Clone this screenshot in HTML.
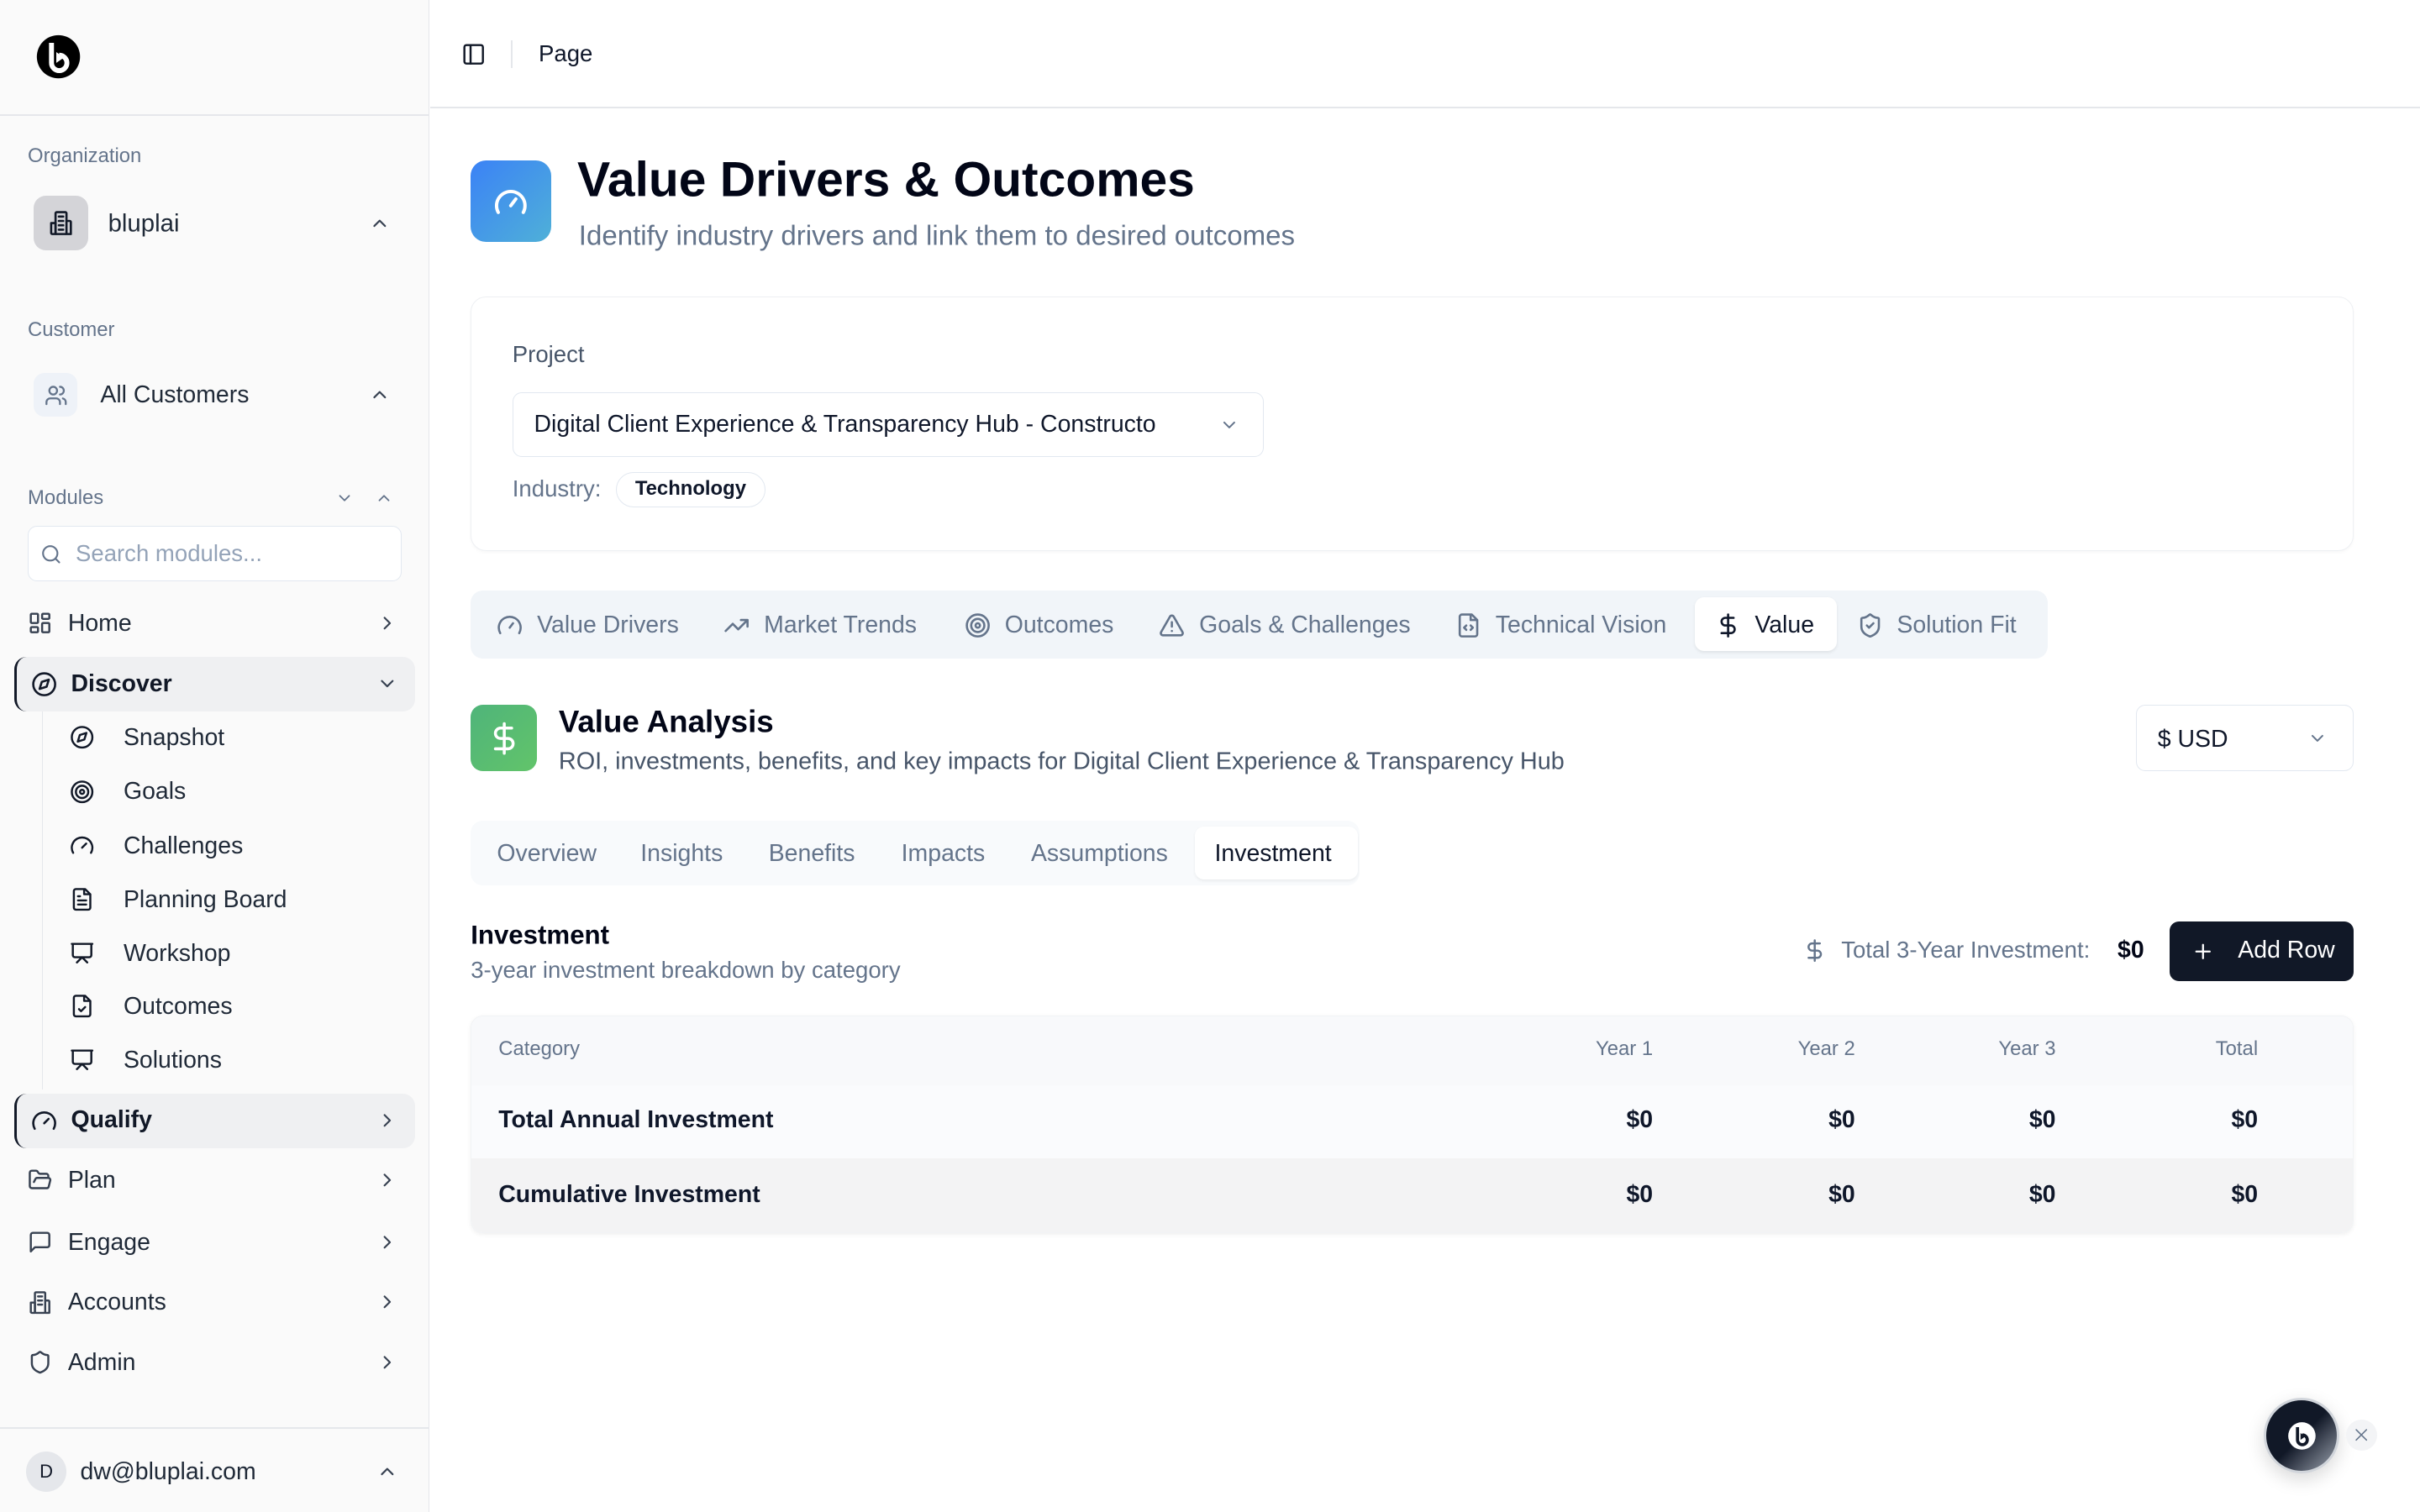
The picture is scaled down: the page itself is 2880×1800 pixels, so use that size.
<!DOCTYPE html>
<html><head><meta charset="utf-8"><style>
*{box-sizing:border-box;margin:0;padding:0}
html,body{width:2880px;height:1800px;overflow:hidden;background:#fff}
#r{position:absolute;left:0;top:0;width:1568px;height:980px;zoom:1.836735;font-family:"Liberation Sans",sans-serif;color:#0f172a}
.a{position:absolute}
.t{position:absolute;line-height:1;transform:translateY(-50%);white-space:nowrap}
.g{color:#64748b}
svg.i{position:absolute;fill:none;stroke:currentColor;stroke-width:2;stroke-linecap:round;stroke-linejoin:round}
.side{left:0;top:0;width:278px;height:980px;background:#fafafa;border-right:1px solid #e5e7eb}
.nav{font-size:15.5px;color:#1f2937}
</style></head><body><div id="r">
<div class="a side"></div>
<svg class="a" style="left:23px;top:22px" width="30" height="30" viewBox="0 0 30 30"><circle cx="15" cy="15" r="14" fill="#000"/><path d="M10.5 6v13a5 5 0 1 0 5-5" stroke="#fff" stroke-width="3.2" fill="none"/><path d="M13.6 12v7l5-3.5z" fill="#fff"/></svg>
<div class="a" style="left:0;top:74px;width:278px;height:1px;background:#e5e7eb"></div>
<div class="t g" style="left:18px;top:101px;font-size:13px">Organization</div>
<div class="a" style="left:22px;top:127px;width:35px;height:35px;border-radius:8px;background:#d4d4d8"></div>
<svg class="i" style="left:31px;top:136px;color:#111827" width="17" height="17" viewBox="0 0 24 24"><rect x="7" y="2" width="10" height="20" rx="1"/><path d="M3 12h4v10H4a1 1 0 0 1-1-1zM17 10h3a1 1 0 0 1 1 1v11h-4M10 6h4M10 10h4M10 14h4M10 18h4"/></svg>
<div class="t nav" style="left:70px;top:145px;font-size:16px">bluplai</div>
<svg class="i" style="left:239px;top:138px;color:#374151" width="14" height="14" viewBox="0 0 24 24"><path d="M6 15l6-6 6 6"/></svg>
<div class="t g" style="left:18px;top:214px;font-size:13px">Customer</div>
<div class="a" style="left:22px;top:242px;width:28px;height:28px;border-radius:7px;background:#eef2f8"></div>
<svg class="i" style="left:29px;top:249px;color:#64748b" width="15" height="15" viewBox="0 0 24 24"><circle cx="9" cy="7" r="4"/><path d="M2 21v-2a4 4 0 0 1 4-4h6a4 4 0 0 1 4 4v2M16 3a4 4 0 0 1 0 8M22 21v-2a4 4 0 0 0-3-3.9"/></svg>
<div class="t nav" style="left:65px;top:256px;font-size:15.5px">All Customers</div>
<svg class="i" style="left:239px;top:249px;color:#374151" width="14" height="14" viewBox="0 0 24 24"><path d="M6 15l6-6 6 6"/></svg>
<div class="t g" style="left:18px;top:323px;font-size:13px">Modules</div>
<svg class="i" style="left:217px;top:317px;color:#64748b" width="12" height="12" viewBox="0 0 24 24"><path d="M6 9l6 6 6-6"/></svg>
<svg class="i" style="left:243px;top:317px;color:#64748b" width="12" height="12" viewBox="0 0 24 24"><path d="M6 15l6-6 6 6"/></svg>
<div class="a" style="left:18px;top:341px;width:242px;height:36px;border:1px solid #e2e8f0;border-radius:6px;background:#fff"></div>
<svg class="i" style="left:26px;top:352px;color:#64748b" width="14" height="14" viewBox="0 0 24 24"><circle cx="11" cy="11" r="8"/><path d="M21 21l-4.3-4.3"/></svg>
<div class="t" style="left:49px;top:359px;font-size:15px;color:#94a3b8">Search modules...</div>
<svg class="i" style="left:18px;top:396px;color:#374151" width="16" height="16" viewBox="0 0 24 24"><rect x="3" y="3" width="7" height="9" rx="1"/><rect x="14" y="3" width="7" height="5" rx="1"/><rect x="14" y="12" width="7" height="9" rx="1"/><rect x="3" y="16" width="7" height="5" rx="1"/></svg>
<div class="t nav" style="left:44px;top:404px">Home</div>
<svg class="i" style="left:244px;top:397px;color:#374151" width="14" height="14" viewBox="0 0 24 24"><path d="M9 6l6 6-6 6"/></svg>
<div class="a" style="left:9px;top:426px;width:260px;height:35px;background:#eff0f2;border-radius:8px;border-left:2px solid #111827"></div>
<svg class="i" style="left:20px;top:435px;color:#111827" width="17" height="17" viewBox="0 0 24 24"><circle cx="12" cy="12" r="10"/><path d="M16.2 7.8l-2 6.4-6.4 2 2-6.4z"/></svg>
<div class="t nav" style="left:46px;top:443px;font-weight:bold;color:#111827">Discover</div>
<svg class="i" style="left:244px;top:436px;color:#374151" width="14" height="14" viewBox="0 0 24 24"><path d="M6 9l6 6 6-6"/></svg>
<div class="a" style="left:27px;top:461px;width:1px;height:245px;background:#e5e7eb"></div>
<svg class="i" style="left:45px;top:470px;color:#111827" width="16" height="16" viewBox="0 0 24 24"><circle cx="12" cy="12" r="10"/><path d="M16.2 7.8l-2 6.4-6.4 2 2-6.4z"/></svg>
<div class="t nav" style="left:80px;top:478px">Snapshot</div>
<svg class="i" style="left:45px;top:505px;color:#111827" width="16" height="16" viewBox="0 0 24 24"><circle cx="12" cy="12" r="10"/><circle cx="12" cy="12" r="6"/><circle cx="12" cy="12" r="2"/></svg>
<div class="t nav" style="left:80px;top:513px">Goals</div>
<svg class="i" style="left:45px;top:540px;color:#111827" width="16" height="16" viewBox="0 0 24 24"><path d="M12 14l4-4M3.3 19a10 10 0 1 1 17.4 0"/></svg>
<div class="t nav" style="left:80px;top:548px">Challenges</div>
<svg class="i" style="left:45px;top:575px;color:#111827" width="16" height="16" viewBox="0 0 24 24"><path d="M15 2H6a2 2 0 0 0-2 2v16a2 2 0 0 0 2 2h12a2 2 0 0 0 2-2V7z M14 2v5h5M8 13h8M8 17h8M8 9h2"/></svg>
<div class="t nav" style="left:80px;top:583px">Planning Board</div>
<svg class="i" style="left:45px;top:610px;color:#111827" width="16" height="16" viewBox="0 0 24 24"><path d="M2 3h20M21 3v11a2 2 0 0 1-2 2H5a2 2 0 0 1-2-2V3M7 21l5-5 5 5"/></svg>
<div class="t nav" style="left:80px;top:618px">Workshop</div>
<svg class="i" style="left:45px;top:644px;color:#111827" width="16" height="16" viewBox="0 0 24 24"><path d="M15 2H6a2 2 0 0 0-2 2v16a2 2 0 0 0 2 2h12a2 2 0 0 0 2-2V7z M14 2v5h5M9 15l2 2 4-4"/></svg>
<div class="t nav" style="left:80px;top:652px">Outcomes</div>
<svg class="i" style="left:45px;top:679px;color:#111827" width="16" height="16" viewBox="0 0 24 24"><path d="M2 3h20M21 3v11a2 2 0 0 1-2 2H5a2 2 0 0 1-2-2V3M7 21l5-5 5 5"/></svg>
<div class="t nav" style="left:80px;top:687px">Solutions</div>
<div class="a" style="left:9px;top:709px;width:260px;height:35px;background:#eff0f2;border-radius:8px;border-left:2px solid #111827"></div>
<svg class="i" style="left:20px;top:718px;color:#111827" width="17" height="17" viewBox="0 0 24 24"><path d="M12 14l4-4M3.3 19a10 10 0 1 1 17.4 0"/></svg>
<div class="t nav" style="left:46px;top:726px;font-weight:bold;color:#111827">Qualify</div>
<svg class="i" style="left:244px;top:719px;color:#374151" width="14" height="14" viewBox="0 0 24 24"><path d="M9 6l6 6-6 6"/></svg>
<svg class="i" style="left:18px;top:757px;color:#374151" width="16" height="16" viewBox="0 0 24 24"><path d="M6 14l1.5-2.9A2 2 0 0 1 9.2 10H20a2 2 0 0 1 1.9 2.5l-1.5 6a2 2 0 0 1-2 1.5H4a2 2 0 0 1-2-2V5a2 2 0 0 1 2-2h3.9a2 2 0 0 1 1.7.9l.8 1.2a2 2 0 0 0 1.7.9H18a2 2 0 0 1 2 2v2"/></svg>
<div class="t nav" style="left:44px;top:765px">Plan</div>
<svg class="i" style="left:244px;top:758px;color:#374151" width="14" height="14" viewBox="0 0 24 24"><path d="M9 6l6 6-6 6"/></svg>
<svg class="i" style="left:18px;top:797px;color:#374151" width="16" height="16" viewBox="0 0 24 24"><path d="M21 15a2 2 0 0 1-2 2H7l-4 4V5a2 2 0 0 1 2-2h14a2 2 0 0 1 2 2z"/></svg>
<div class="t nav" style="left:44px;top:805px">Engage</div>
<svg class="i" style="left:244px;top:798px;color:#374151" width="14" height="14" viewBox="0 0 24 24"><path d="M9 6l6 6-6 6"/></svg>
<svg class="i" style="left:18px;top:836px;color:#374151" width="16" height="16" viewBox="0 0 24 24"><rect x="7" y="2" width="10" height="20" rx="1"/><path d="M3 12h4v10H4a1 1 0 0 1-1-1zM17 10h3a1 1 0 0 1 1 1v11h-4M10 6h4M10 10h4M10 14h4"/></svg>
<div class="t nav" style="left:44px;top:844px">Accounts</div>
<svg class="i" style="left:244px;top:837px;color:#374151" width="14" height="14" viewBox="0 0 24 24"><path d="M9 6l6 6-6 6"/></svg>
<svg class="i" style="left:18px;top:875px;color:#374151" width="16" height="16" viewBox="0 0 24 24"><path d="M20 13c0 5-3.5 7.5-7.7 9a1 1 0 0 1-.7 0C7.5 20.5 4 18 4 13V6a1 1 0 0 1 1-1c2 0 4.5-1.2 6.2-2.7a1.2 1.2 0 0 1 1.6 0C14.5 3.8 17 5 19 5a1 1 0 0 1 1 1z"/></svg>
<div class="t nav" style="left:44px;top:883px">Admin</div>
<svg class="i" style="left:244px;top:876px;color:#374151" width="14" height="14" viewBox="0 0 24 24"><path d="M9 6l6 6-6 6"/></svg>
<div class="a" style="left:0;top:925px;width:278px;height:1px;background:#e5e7eb"></div>
<div class="a" style="left:17px;top:941px;width:26px;height:26px;border-radius:50%;background:#e5e7eb;font-size:12px;line-height:26px;text-align:center;color:#111827">D</div>
<div class="t nav" style="left:52px;top:954px">dw@bluplai.com</div>
<svg class="i" style="left:244px;top:947px;color:#374151" width="14" height="14" viewBox="0 0 24 24"><path d="M6 15l6-6 6 6"/></svg>

<div class="a" style="left:279px;top:69px;width:1289px;height:1px;background:#e5e7eb"></div>
<svg class="i" style="left:299px;top:27px;color:#111827" width="16" height="16" viewBox="0 0 24 24"><rect x="3" y="3" width="18" height="18" rx="2"/><path d="M9 3v18"/></svg>
<div class="a" style="left:331px;top:26px;width:1px;height:18px;background:#e5e7eb"></div>
<div class="t" style="left:349px;top:35px;font-size:15px">Page</div>

<div class="a" style="left:305px;top:104px;width:52px;height:53px;border-radius:10px;background:linear-gradient(135deg,#3b82f6,#4fb0d8)"></div>
<svg class="i" style="left:318px;top:118px;color:#fff" width="26" height="26" viewBox="0 0 24 24"><path d="M12 14l3-4M4.5 18a8.5 8.5 0 1 1 15 0"/></svg>
<div class="t" style="left:374px;top:117px;font-size:32px;font-weight:bold;color:#020617">Value Drivers &amp; Outcomes</div>
<div class="t" style="left:375px;top:153px;font-size:18px;color:#64748b">Identify industry drivers and link them to desired outcomes</div>

<div class="a" style="left:305px;top:192px;width:1220px;height:165px;border:1px solid #eef0f3;border-radius:10px;box-shadow:0 1px 2px rgba(0,0,0,.03)"></div>
<div class="t" style="left:332px;top:230px;font-size:15px;color:#475569">Project</div>
<div class="a" style="left:332px;top:254px;width:487px;height:42px;border:1px solid #e2e8f0;border-radius:6px"></div>
<div class="t" style="left:346px;top:275px;font-size:15.5px">Digital Client Experience &amp; Transparency Hub - Constructo</div>
<svg class="i" style="left:790px;top:269px;color:#64748b" width="13" height="13" viewBox="0 0 24 24"><path d="M6 9l6 6 6-6"/></svg>
<div class="t" style="left:332px;top:317px;font-size:15px;color:#64748b">Industry:</div>
<div class="a" style="left:399px;top:306px;width:97px;height:23px;border:1px solid #e2e8f0;border-radius:12px;font-size:13px;font-weight:bold;line-height:21px;text-align:center">Technology</div>

<div class="a" style="left:305px;top:383px;width:1022px;height:44px;background:#f1f5f9;border-radius:8px"></div>
<div class="a" style="left:1098px;top:387px;width:92px;height:35px;background:#fff;border-radius:6px;box-shadow:0 1px 2px rgba(0,0,0,.08)"></div>
<svg class="i" style="left:322px;top:397px;color:#64748b" width="17" height="17" viewBox="0 0 24 24"><path d="M12 14l3-4M3.3 19a10 10 0 1 1 17.4 0"/></svg>
<div class="t" style="left:348px;top:405px;font-size:15.5px;color:#64748b">Value Drivers</div>
<svg class="i" style="left:469px;top:397px;color:#64748b" width="17" height="17" viewBox="0 0 24 24"><path d="M22 7l-8.5 8.5-5-5L2 17M16 7h6v6"/></svg>
<div class="t" style="left:495px;top:405px;font-size:15.5px;color:#64748b">Market Trends</div>
<svg class="i" style="left:625px;top:397px;color:#64748b" width="17" height="17" viewBox="0 0 24 24"><circle cx="12" cy="12" r="10"/><circle cx="12" cy="12" r="6"/><circle cx="12" cy="12" r="2"/></svg>
<div class="t" style="left:651px;top:405px;font-size:15.5px;color:#64748b">Outcomes</div>
<svg class="i" style="left:751px;top:397px;color:#64748b" width="17" height="17" viewBox="0 0 24 24"><path d="M21.7 18l-8-14a2 2 0 0 0-3.5 0l-8 14A2 2 0 0 0 4 21h16a2 2 0 0 0 1.7-3zM12 9v4M12 17h.01"/></svg>
<div class="t" style="left:777px;top:405px;font-size:15.5px;color:#64748b">Goals &amp; Challenges</div>
<svg class="i" style="left:943px;top:397px;color:#64748b" width="17" height="17" viewBox="0 0 24 24"><path d="M15 2H6a2 2 0 0 0-2 2v16a2 2 0 0 0 2 2h12a2 2 0 0 0 2-2V7z M14 2v5h5M10 12l-2 2 2 2M14 12l2 2-2 2"/></svg>
<div class="t" style="left:969px;top:405px;font-size:15.5px;color:#64748b">Technical Vision</div>
<svg class="i" style="left:1111px;top:397px;color:#0f172a" width="17" height="17" viewBox="0 0 24 24"><path d="M12 2v20M17 5H9.5a3.5 3.5 0 0 0 0 7h5a3.5 3.5 0 0 1 0 7H6"/></svg>
<div class="t" style="left:1137px;top:405px;font-size:15.5px;color:#0f172a">Value</div>
<svg class="i" style="left:1203px;top:397px;color:#64748b" width="17" height="17" viewBox="0 0 24 24"><path d="M20 13c0 5-3.5 7.5-7.7 9a1 1 0 0 1-.7 0C7.5 20.5 4 18 4 13V6a1 1 0 0 1 1-1c2 0 4.5-1.2 6.2-2.7a1.2 1.2 0 0 1 1.6 0C14.5 3.8 17 5 19 5a1 1 0 0 1 1 1zM9 12l2 2 4-4"/></svg>
<div class="t" style="left:1229px;top:405px;font-size:15.5px;color:#64748b">Solution Fit</div>

<div class="a" style="left:305px;top:457px;width:43px;height:43px;border-radius:8px;background:linear-gradient(135deg,#4fb47a,#62c46a)"></div>
<svg class="i" style="left:315px;top:467px;color:#fff" width="23" height="23" viewBox="0 0 24 24"><path d="M12 2v20M17 5H9.5a3.5 3.5 0 0 0 0 7h5a3.5 3.5 0 0 1 0 7H6"/></svg>
<div class="t" style="left:362px;top:468px;font-size:20px;font-weight:bold;color:#020617">Value Analysis</div>
<div class="t" style="left:362px;top:494px;font-size:15.7px;color:#475569">ROI, investments, benefits, and key impacts for Digital Client Experience &amp; Transparency Hub</div>
<div class="a" style="left:1384px;top:457px;width:141px;height:43px;border:1px solid #e2e8f0;border-radius:6px"></div>
<div class="t" style="left:1398px;top:479px;font-size:15.5px">$ USD</div>
<svg class="i" style="left:1495px;top:472px;color:#64748b" width="13" height="13" viewBox="0 0 24 24"><path d="M6 9l6 6 6-6"/></svg>

<div class="a" style="left:305px;top:532px;width:576px;height:42px;background:#f8fafc;border-radius:8px"></div>
<div class="a" style="left:774px;top:536px;width:106px;height:34px;background:#fff;border-radius:6px;box-shadow:0 1px 2px rgba(0,0,0,.06)"></div>
<div class="t" style="left:322px;top:553px;font-size:15.5px;color:#64748b">Overview</div>
<div class="t" style="left:415px;top:553px;font-size:15.5px;color:#64748b">Insights</div>
<div class="t" style="left:498px;top:553px;font-size:15.5px;color:#64748b">Benefits</div>
<div class="t" style="left:584px;top:553px;font-size:15.5px;color:#64748b">Impacts</div>
<div class="t" style="left:668px;top:553px;font-size:15.5px;color:#64748b">Assumptions</div>
<div class="t" style="left:787px;top:553px;font-size:15.5px;color:#0f172a">Investment</div>

<div class="t" style="left:305px;top:606px;font-size:17px;font-weight:bold;color:#020617">Investment</div>
<div class="t" style="left:305px;top:629px;font-size:15px;color:#64748b">3-year investment breakdown by category</div>
<svg class="i" style="left:1168px;top:608px;color:#64748b" width="16" height="16" viewBox="0 0 24 24"><path d="M12 2v20M17 5H9.5a3.5 3.5 0 0 0 0 7h5a3.5 3.5 0 0 1 0 7H6"/></svg>
<div class="t" style="left:1193px;top:616px;font-size:15px;color:#64748b">Total 3-Year Investment:</div>
<div class="t" style="left:1372px;top:616px;font-size:15.5px;font-weight:bold;color:#020617">$0</div>
<div class="a" style="left:1406px;top:597px;width:119px;height:39px;background:#111827;border-radius:6px"></div>
<svg class="i" style="left:1420px;top:609px;color:#fff" width="15" height="15" viewBox="0 0 24 24"><path d="M5 12h14M12 5v14"/></svg>
<div class="t" style="left:1450px;top:616px;font-size:15.5px;color:#fff">Add Row</div>

<div class="a" style="left:305px;top:658px;width:1220px;height:141px;border-radius:8px;overflow:hidden;box-shadow:0 1px 3px rgba(0,0,0,.06);border:1px solid #f1f3f5">
 <div class="a" style="left:0;top:0;width:1220px;height:45px;background:#f8f9fb"></div>
 <div class="a" style="left:0;top:45px;width:1220px;height:47px;background:#fafbfd"></div>
 <div class="a" style="left:0;top:92px;width:1220px;height:49px;background:#f3f3f4"></div>
</div>
<div class="t" style="left:323px;top:680px;font-size:13px;color:#64748b">Category</div>
<div class="t" style="left:1071px;top:680px;font-size:13px;color:#64748b;transform:translate(-100%,-50%)">Year 1</div>
<div class="t" style="left:1202px;top:680px;font-size:13px;color:#64748b;transform:translate(-100%,-50%)">Year 2</div>
<div class="t" style="left:1332px;top:680px;font-size:13px;color:#64748b;transform:translate(-100%,-50%)">Year 3</div>
<div class="t" style="left:1463px;top:680px;font-size:13px;color:#64748b;transform:translate(-100%,-50%)">Total</div>
<div class="t" style="left:323px;top:726px;font-size:15.5px;font-weight:bold">Total Annual Investment</div>
<div class="t" style="left:323px;top:774px;font-size:15.5px;font-weight:bold">Cumulative Investment</div>
<div class="t" style="left:1071px;top:726px;font-size:15.5px;font-weight:bold;transform:translate(-100%,-50%)">$0</div>
<div class="t" style="left:1202px;top:726px;font-size:15.5px;font-weight:bold;transform:translate(-100%,-50%)">$0</div>
<div class="t" style="left:1332px;top:726px;font-size:15.5px;font-weight:bold;transform:translate(-100%,-50%)">$0</div>
<div class="t" style="left:1463px;top:726px;font-size:15.5px;font-weight:bold;transform:translate(-100%,-50%)">$0</div>
<div class="t" style="left:1071px;top:774px;font-size:15.5px;font-weight:bold;transform:translate(-100%,-50%)">$0</div>
<div class="t" style="left:1202px;top:774px;font-size:15.5px;font-weight:bold;transform:translate(-100%,-50%)">$0</div>
<div class="t" style="left:1332px;top:774px;font-size:15.5px;font-weight:bold;transform:translate(-100%,-50%)">$0</div>
<div class="t" style="left:1463px;top:774px;font-size:15.5px;font-weight:bold;transform:translate(-100%,-50%)">$0</div>

<div class="a" style="left:1467px;top:906px;width:49px;height:49px;border-radius:50%;background:linear-gradient(135deg,#111827 50%,#9ca3af);border:2px solid #d1d5db;box-shadow:0 4px 12px rgba(0,0,0,.15)"></div>
<svg class="a" style="left:1482px;top:921px" width="19" height="19" viewBox="0 0 30 30"><circle cx="15" cy="15" r="14" fill="#fff"/><path d="M10.5 6v13a5 5 0 1 0 5-5" stroke="#111827" stroke-width="3.2" fill="none"/><path d="M13.6 12v7l5-3.5z" fill="#111827"/></svg>
<div class="a" style="left:1520px;top:920px;width:20px;height:20px;border-radius:50%;background:#f3f4f6"></div>
<svg class="i" style="left:1525px;top:925px;color:#64748b;stroke-width:2" width="10" height="10" viewBox="0 0 24 24"><path d="M4 4l16 16M20 4L4 20"/></svg>
</div></body></html>
